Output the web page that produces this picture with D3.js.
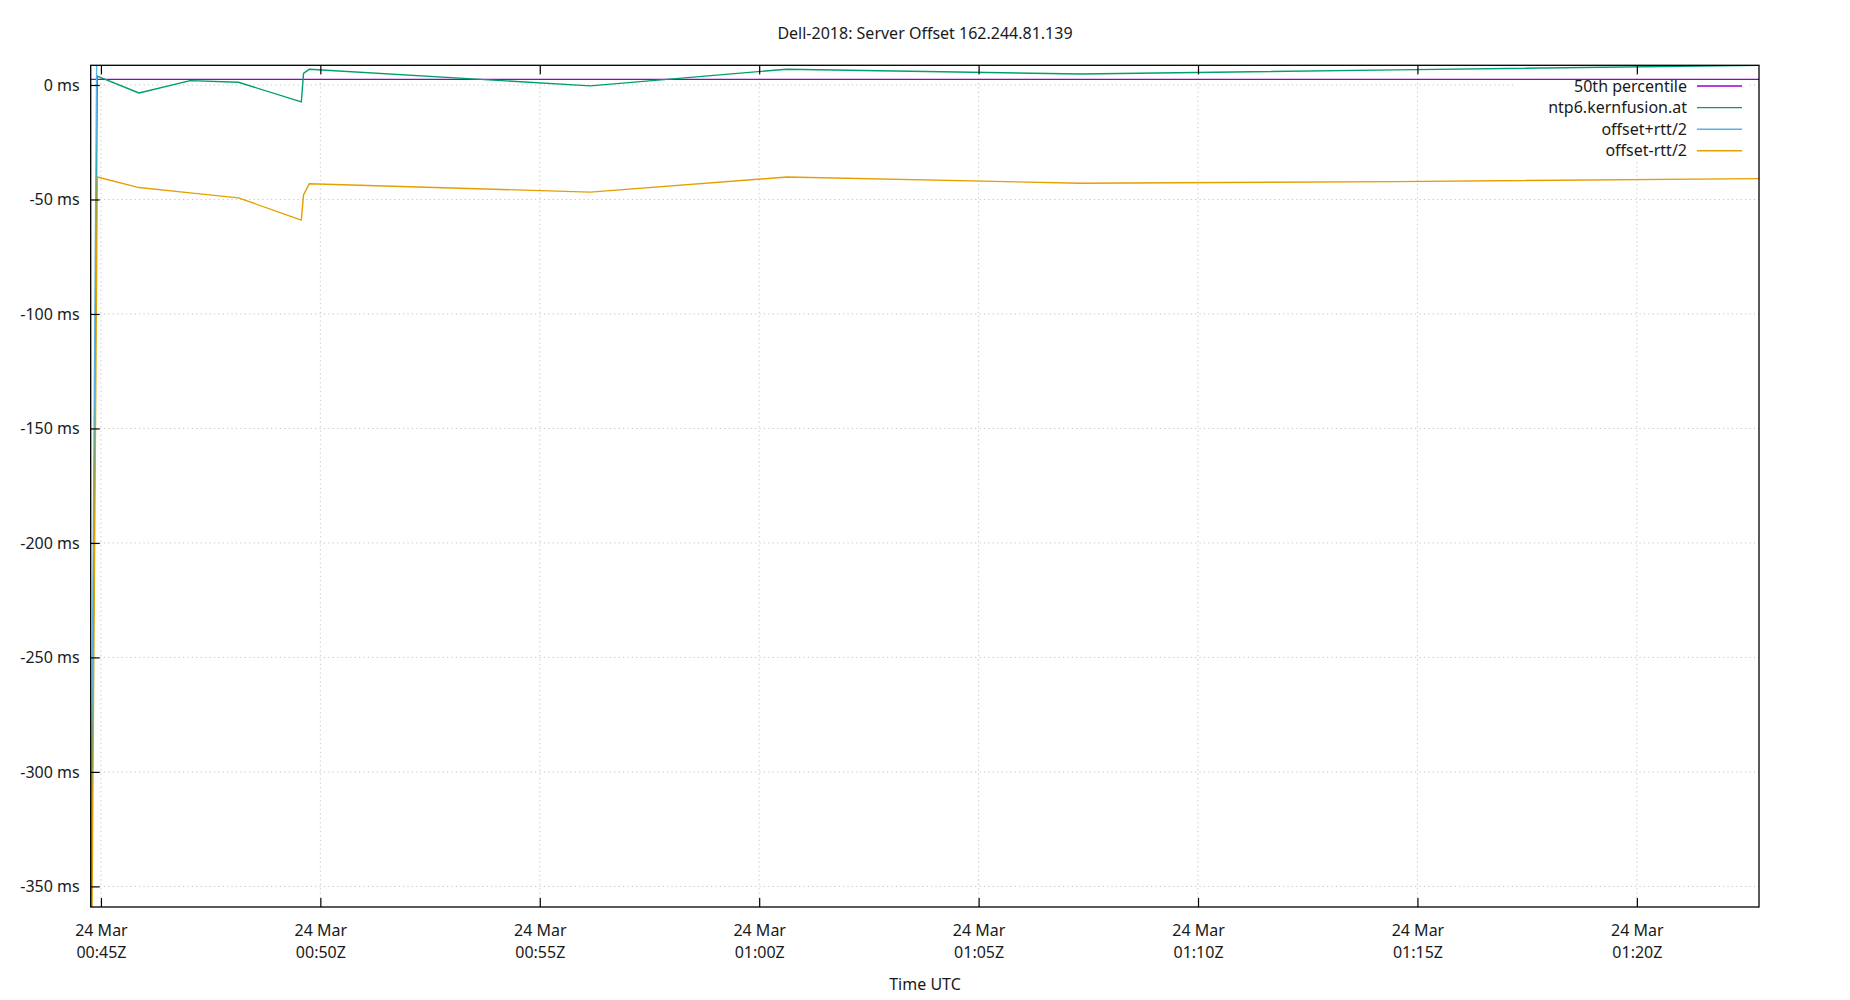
<!DOCTYPE html>
<html>
<head>
<meta charset="utf-8">
<script src="https://cdn.jsdelivr.net/npm/d3@7"></script>
<style>
  body { margin: 0; background: #fff; }
  svg text { font-family: "Noto Sans", "Open Sans", sans-serif; fill: #1a1a1a; }
</style>
</head>
<body>
<div id="chart"></div>
<script>
// sample times (UTC, 24 Mar)
const times = [
  "00:44:46", "00:44:55", "00:45:52", "00:47:02", "00:48:08", "00:49:34",
  "00:49:37", "00:49:45", "00:56:09", "01:00:38", "01:07:19", "01:14:30", "01:22:47"
];
// offset in ms
const offsetMs = [-400, 3.9, -3.5, 1.9, 1.2, -7.4, 5.1, 6.9, -0.4, 6.9, 4.8, 6.6, 8.6];
const offsetPlusRtt = [-360, 48.0, 37.8, 50.9, 51.7, 44.2, 58.2, 56.9, 45.9, 54.0, 52.5, 55.4, 57.9];
const offsetMinusRtt = [-440, -40.2, -44.8, -47.1, -49.3, -59.0, -48.0, -43.1, -46.8, -40.2, -42.9, -42.2, -40.9];
const percentile50 = [2.45];

const yTicks = [0, -50, -100, -150, -200, -250, -300, -350];
const xTicks = ["00:45:00", "00:50:00", "00:55:00", "01:00:00", "01:05:00", "01:10:00", "01:15:00", "01:20:00"];
const xRange = ["00:44:46", "01:22:47"];
const yRange = [-359, 8.6];

const seriesNames = ["50th percentile", "ntp6.kernfusion.at", "offset+rtt/2", "offset-rtt/2"];
const colors = ["#9400d3", "#009e73", "#56b4e9", "#e69f00"];

const W = 1850, H = 1000;
const margin = { top: 65.3, right: 91, bottom: 93, left: 90.7 };
const width = W - margin.left - margin.right;
const height = H - margin.top - margin.bottom;

const parseT = d3.utcParse("%Y-%m-%d %H:%M:%S");
const toDate = s => parseT("2024-03-24 " + s);

const svg = d3.select("#chart")
  .append("svg")
  .attr("width", W)
  .attr("height", H);

const g = svg.append("g")
  .attr("transform", `translate(${margin.left},${margin.top})`);

const x = d3.scaleUtc()
  .domain(xRange.map(toDate))
  .range([0, width]);

const y = d3.scaleLinear()
  .domain(yRange)
  .range([height, 0]);

// grid
g.append("g")
  .selectAll("line")
  .data(yTicks)
  .enter()
  .append("line")
  .attr("x1", 0).attr("x2", width)
  .attr("y1", d => y(d)).attr("y2", d => y(d))
  .attr("stroke", "#c4c4c4")
  .attr("stroke-dasharray", "1.2,3.2");

g.append("g")
  .selectAll("line")
  .data(xTicks)
  .enter()
  .append("line")
  .attr("x1", d => x(toDate(d))).attr("x2", d => x(toDate(d)))
  .attr("y1", 0).attr("y2", height)
  .attr("stroke", "#c4c4c4")
  .attr("stroke-dasharray", "1.2,3.2");

// opaque key box sits over the grid
g.append("rect")
  .attr("x", 1515 - margin.left)
  .attr("y", 81 - margin.top)
  .attr("width", 233)
  .attr("height", 80)
  .attr("fill", "#fff");

// lines
svg.append("defs").append("clipPath")
  .attr("id", "clip")
  .append("rect")
  .attr("width", width)
  .attr("height", height);

const plot = g.append("g").attr("clip-path", "url(#clip)");

plot.append("line")
  .attr("x1", 0).attr("x2", width)
  .attr("y1", y(percentile50[0])).attr("y2", y(percentile50[0]))
  .attr("stroke", colors[0])
  .attr("stroke-width", 1.4);

const line = d3.line()
  .x((d, i) => x(toDate(times[i])))
  .y(d => y(d));

[offsetMs, offsetPlusRtt, offsetMinusRtt].forEach((vals, k) => {
  plot.append("path")
    .datum(vals)
    .attr("d", line)
    .attr("fill", "none")
    .attr("stroke", colors[k + 1])
    .attr("stroke-width", 1.4)
    .attr("stroke-linejoin", "round");
});

// axes
const fmtDay = d3.utcFormat("%-d %b");
const fmtTime = d3.utcFormat("%H:%MZ");

const xAxis = g.append("g")
  .attr("transform", `translate(0,${height})`)
  .call(d3.axisBottom(x).tickValues(xTicks.map(toDate)).tickSize(-9).tickFormat(""));

xAxis.selectAll(".tick text").remove();
xAxis.selectAll(".tick").append("text")
  .attr("text-anchor", "middle")
  .style("font-size", "16px")
  .each(function(d) {
    const t = d3.select(this);
    t.append("tspan").attr("x", 0).attr("y", 29).text(fmtDay(d));
    t.append("tspan").attr("x", 0).attr("y", 51).text(fmtTime(d));
  });

g.append("g")
  .call(d3.axisTop(x).tickValues(xTicks.map(toDate)).tickSize(-9).tickFormat(""));

g.append("g")
  .call(d3.axisLeft(y).tickValues(yTicks).tickSize(-9).tickPadding(11).tickFormat(d => d + " ms"))
  .selectAll("text")
  .style("font-size", "16px");

g.selectAll(".domain").remove();
g.selectAll(".tick line").attr("stroke", "#000").attr("stroke-width", 1.2);

// border
g.append("rect")
  .attr("width", width)
  .attr("height", height)
  .attr("fill", "none")
  .attr("stroke", "#000")
  .attr("stroke-width", 1.3);

// legend
const legend = g.append("g")
  .attr("transform", `translate(${1687 - margin.left},${86 - margin.top})`);

seriesNames.forEach((name, i) => {
  const row = legend.append("g").attr("transform", `translate(0,${i * 21.6})`);
  row.append("text")
    .attr("text-anchor", "end")
    .attr("dy", "0.35em")
    .style("font-size", "16px")
    .text(name);
  row.append("line")
    .attr("x1", 10).attr("x2", 55)
    .attr("stroke", colors[i])
    .attr("stroke-width", 1.4);
});

// title and axis label
svg.append("text")
  .attr("x", 925)
  .attr("y", 39)
  .attr("text-anchor", "middle")
  .style("font-size", "16px")
  .text("Dell-2018: Server Offset 162.244.81.139");

svg.append("text")
  .attr("x", 925)
  .attr("y", 990)
  .attr("text-anchor", "middle")
  .style("font-size", "16px")
  .text("Time UTC");
</script>
</body>
</html>
